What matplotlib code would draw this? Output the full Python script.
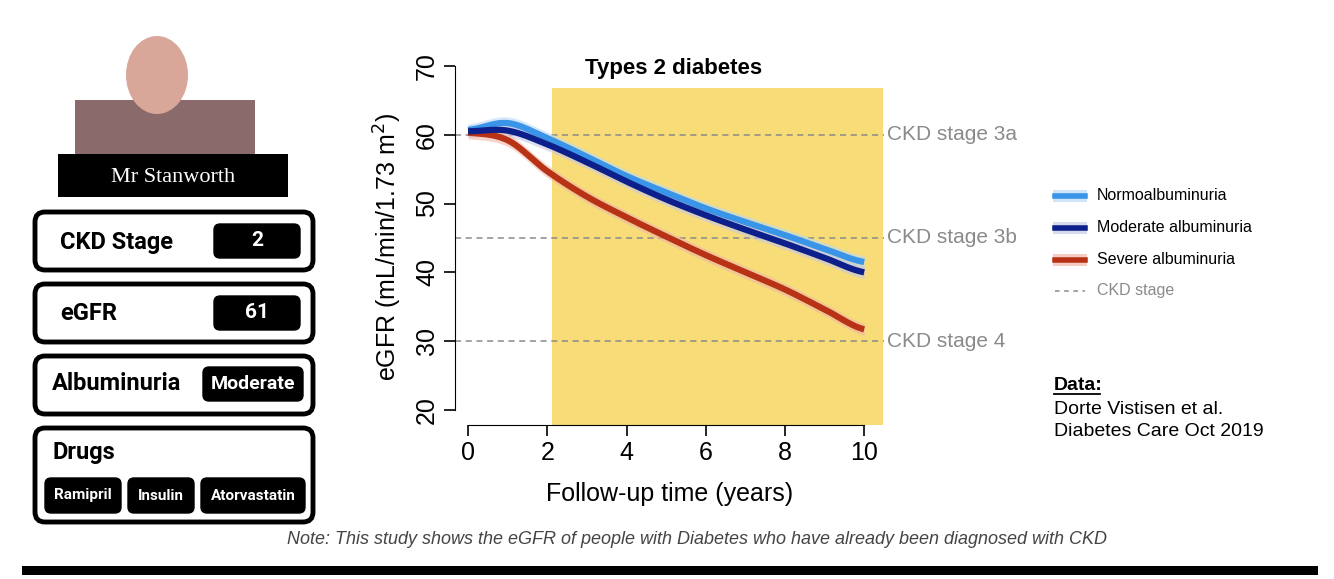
import matplotlib
matplotlib.use("Agg")
import matplotlib.pyplot as plt
from matplotlib.patches import FancyBboxPatch, Rectangle, Ellipse
from matplotlib import font_manager
import numpy as np

plt.rcParams['font.family'] = ['Liberation Sans', 'DejaVu Sans']
names = {f.name for f in font_manager.fontManager.ttflist}
NARROW = 'Liberation Sans Narrow' if 'Liberation Sans Narrow' in names else 'Roboto'

years = [0, 1, 2, 3, 4, 5, 6, 7, 8, 9, 10]
normo = [60.7, 61.7, 59.5, 56.8, 54.0, 51.6, 49.3, 47.3, 45.4, 43.4, 41.5]
moderate = [60.5, 60.6, 58.6, 56.0, 53.2, 50.6, 48.3, 46.2, 44.2, 42.1, 40.0]
severe = [60.3, 59.2, 54.7, 51.0, 48.0, 45.2, 42.5, 40.0, 37.5, 34.6, 31.7]
stages = [60, 45, 30]
stage_labels = ["CKD stage 3a", "CKD stage 3b", "CKD stage 4"]
series_names = ["Normoalbuminuria", "Moderate albuminuria", "Severe albuminuria"]
colors = ["#3a95e8", "#0d1f8a", "#b83216"]
bands = ["#bcd9f5", "#c7c9e6", "#f0b8a8"]

W, H = 1334, 579
fig = plt.figure(figsize=(W/100, H/100), dpi=100)

def smooth(x, y):
    xs = np.linspace(x[0], x[-1], 300)
    x = np.array(x, float); y = np.array(y, float)
    out = []
    for xv in xs:
        i = min(np.searchsorted(x, xv, side='right') - 1, len(x) - 2)
        p0 = y[max(i-1, 0)]; p1 = y[i]; p2 = y[i+1]; p3 = y[min(i+2, len(y)-1)]
        t = (xv - x[i]) / (x[i+1] - x[i])
        out.append(0.5*((2*p1) + (-p0+p2)*t + (2*p0-5*p1+4*p2-p3)*t**2 + (-p0+3*p1-3*p2+p3)*t**3))
    return xs, np.array(out)

x0px, x1px = 455, 884
ytop, ybot = 66, 427
ax = fig.add_axes([x0px/W, 1-ybot/H, (x1px-x0px)/W, (ybot-ytop)/H])
ax.set_xlim(-0.33, 10.5)
ax.set_ylim(17.5, 70)
ax.add_patch(Rectangle((2.12, 17.8), 10.48-2.12, 66.8-17.8, color="#f7dc78", zorder=0, lw=0))
for s in stages:
    ax.plot([-0.33, 10.5], [s, s], ls=(0, (4, 3)), color="#8a8a8a", lw=1.1, zorder=1)
for ys, c, b in zip([normo, moderate, severe], colors, bands):
    xs, yy = smooth(years, ys)
    ax.fill_between(xs, yy-0.9, yy+0.9, color=b, alpha=0.6, lw=0, zorder=2)
for ys, c in zip([severe, normo, moderate], [colors[2], colors[0], colors[1]]):
    xs, yy = smooth(years, ys)
    ax.plot(xs, yy, color=c, lw=4.5, zorder=3, solid_capstyle="butt")
for sp in ["top", "right"]:
    ax.spines[sp].set_visible(False)
ax.spines["left"].set_bounds(20, 70)
ax.spines["bottom"].set_bounds(0, 10)
ax.spines["bottom"].set_position(("data", 17.8))
ax.set_xticks([0, 2, 4, 6, 8, 10])
ax.set_yticks([20, 30, 40, 50, 60, 70])
ax.set_yticklabels(["20", "30", "40", "50", "60", "70"], rotation=90, va="center")
ax.tick_params(labelsize=18, length=8, width=1.2)
ax.set_xlabel("Follow-up time (years)", fontsize=18, labelpad=12)
ax.set_ylabel("eGFR (mL/min/1.73 m$^2$)", fontsize=18, labelpad=8)
ax.text(5.2, 69.6, "Types 2 diabetes", fontsize=16, fontweight="bold", ha="center", va="center")
for s, l in zip(stages, stage_labels):
    ax.text(10.57, s, l, fontsize=15, color="#8a8a8a", va="center", clip_on=False)

ov2 = fig.add_axes([0, 0, 1, 1], zorder=5)
ov2.set_xlim(0, W); ov2.set_ylim(H, 0); ov2.axis("off"); ov2.patch.set_alpha(0)

for i, (n, c, b) in enumerate(zip(series_names, colors, bands)):
    y = 196 + i*32
    ov2.add_patch(Rectangle((1053, y-6), 34, 12, color=b, alpha=0.7, lw=0))
    ov2.plot([1055, 1085], [y, y], color=c, lw=4)
    ov2.text(1097, y, n, fontsize=11.5, va="center")
ov2.plot([1055, 1085], [291, 291], ls=(0, (3, 3)), color="#8a8a8a", lw=1.1)
ov2.text(1097, 291, "CKD stage", fontsize=11.5, va="center", color="#8a8a8a")
ov2.text(1054, 385, "Data:", fontsize=14, fontweight="bold", va="center")
ov2.plot([1054, 1100], [394, 394], color="black", lw=1.3)
ov2.text(1054, 409, "Dorte Vistisen et al.", fontsize=14, va="center")
ov2.text(1054, 431, "Diabetes Care Oct 2019", fontsize=14, va="center")

ov2.text(697, 540, "Note: This study shows the eGFR of people with Diabetes who have already been diagnosed with CKD",
         fontsize=13, style="italic", color="#444444", ha="center", va="center")
ov2.add_patch(Rectangle((22, 566), 1296, 9, color="black", lw=0))

# portrait placeholder
ov2.add_patch(Rectangle((75, 100), 180, 55, color="#8a6a6a", lw=0))
ov2.add_patch(Ellipse((157, 75), 62, 78, color="#d9a79a", lw=0))
ov2.add_patch(Rectangle((58, 154), 230, 43, color="black", lw=0))
ov2.text(173, 177, "Mr Stanworth", fontsize=16, color="white", ha="center", va="center", family="Liberation Serif")

def box(y0, h):
    ov2.add_patch(FancyBboxPatch((35, y0), 278, h, boxstyle="round,pad=0,rounding_size=10",
                                 fc="white", ec="black", lw=3.5))
def pill(x, y, w, h, text, fs=14):
    ov2.add_patch(FancyBboxPatch((x, y), w, h, boxstyle="round,pad=0,rounding_size=6",
                                 fc="black", ec="black", lw=1))
    ov2.text(x + w/2, y + h/2, text, color="white", fontsize=fs, fontweight="bold",
             ha="center", va="center", family=NARROW)

def label(x, y, t):
    ov2.text(x, y, t, fontsize=17, fontweight="bold", va="center", family=NARROW)

box(212, 58); label(60, 242, "CKD Stage")
pill(214, 224, 86, 34, "2", fs=15)
box(284, 58); label(60, 314, "eGFR")
pill(214, 296, 86, 34, "61", fs=15)
box(356, 58); label(52, 384, "Albuminuria")
pill(203, 367, 100, 34, "Moderate", fs=14)
box(428, 94); label(52, 453, "Drugs")
pill(45, 478, 76, 35, "Ramipril", fs=11)
pill(128, 478, 66, 35, "Insulin", fs=11)
pill(201, 478, 104, 35, "Atorvastatin", fs=11)

fig.savefig("out.png", dpi=100)
